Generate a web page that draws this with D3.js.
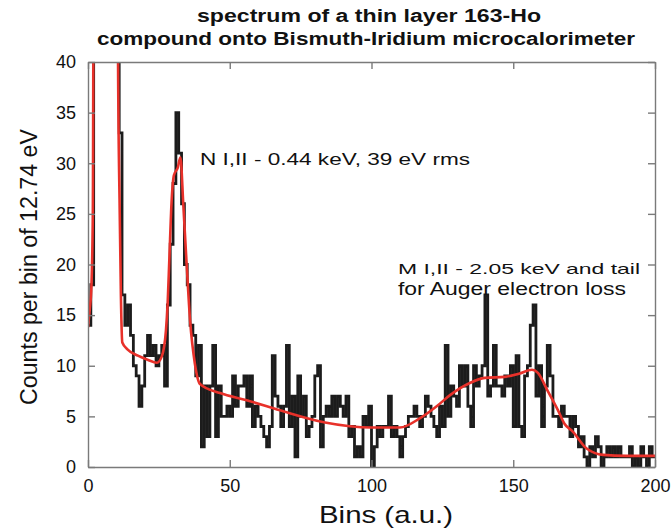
<!DOCTYPE html>
<html>
<head>
<meta charset="utf-8">
<script src="https://cdn.jsdelivr.net/npm/d3@7"></script>
<style>
  body { margin: 0; background: #fff; }
  svg text { font-family: "Liberation Sans", Arial, Helvetica, sans-serif; fill: #111; }
</style>
</head>
<body>
<svg id="chart"></svg>
<script>
// counts per bin (bins 0..199); bins 2-10 run off the top
const counts = [
  14, 18, 60, 110, 150, 160, 140, 110, 85, 62,
  45, 33, 17, 14, 16, 13, 10, 9, 6, 8,
  11, 13, 11, 12, 10, 11, 12, 8, 16, 22,
  28, 35, 31, 26, 20, 18, 14, 13, 9, 12,
  2, 8, 3, 8, 12, 3, 8, 5, 5, 6,
  5, 9, 6, 8, 8, 9, 6, 9, 4, 6,
  5, 4, 3, 2, 4, 11, 7, 6, 4, 6,
  12, 4, 7, 1, 9, 5, 7, 3, 4, 5,
  9, 10, 2, 5, 6, 5, 7, 5, 7, 6,
  5, 7, 3, 4, 1, 2, 1, 5, 4, 6,
  0, 2, 4, 3, 4, 4, 7, 3, 4, 3,
  1, 3, 4, 5, 5, 6, 5, 4, 5, 7,
  6, 5, 4, 3, 6, 4, 12, 5, 8, 7,
  6, 10, 8, 10, 6, 4, 10, 8, 9, 10,
  17, 7, 8, 12, 8, 8, 7, 9, 8, 10,
  4, 11, 4, 3, 9, 10, 14, 16, 7, 10,
  4, 8, 12, 9, 5, 5, 4, 6, 5, 5,
  3, 5, 4, 2, 3, 1, 0, 2, 1, 3,
  2, 0, 1, 2, 1, 2, 1, 2, 1, 1,
  1, 2, 0, 1, 0, 2, 1, 0, 2, 1
];

// fitted line (red), knots
const fitBins = [0, 0.6, 1.2, 1.7, 2.1, 10.3, 10.6, 11.2, 11.6, 12.1, 14, 17.6, 21, 24.3, 26,
  27.5, 28.1, 28.7, 29.5, 30.3, 31.7, 32.6, 33.6, 34.8, 36, 37.7, 39.5, 46.6, 56, 67.7,
  83.6, 100, 110, 117, 123, 127.7, 134.7, 140, 147, 152, 156.6, 158.7, 162, 165.8, 168,
  171, 176, 181.7, 190, 200];
const fitCounts = [13.8, 15.5, 17.8, 25, 60, 60, 40, 25, 17, 12.3, 11.6, 11, 10.6, 10.3, 10.9,
  13.5, 16.2, 20.6, 26.3, 28.8, 29.6, 30.6, 26, 20, 14.5, 10.2, 8.2, 7.3, 6.6, 5.6,
  4.4, 3.9, 3.9, 4.8, 6, 7.1, 8.3, 8.8, 8.9, 9.2, 9.6, 9.3, 7.6, 5.6, 4.3,
  3.5, 1.8, 1.2, 1.1, 1.1];

const xTicks = [0, 50, 100, 150, 200];
const yTicks = [0, 5, 10, 15, 20, 25, 30, 35, 40];
const titleLines = ['spectrum of a thin layer 163-Ho', 'compound onto Bismuth-Iridium microcalorimeter'];
const xLabel = 'Bins (a.u.)';
const yLabel = 'Counts per bin of 12.74 eV';
const noteN = 'N I,II - 0.44 keV, 39 eV rms';
const noteM = ['M I,II - 2.05 keV and tail', 'for Auger electron loss'];

const config = {
  width: 672,
  height: 529,
  margin: { top: 62, right: 17, bottom: 62, left: 88 },
  histColor: '#1c1c1c',
  fitColor: '#e8312a',
  frameColor: '#7a7a7a'
};

const innerW = config.width - config.margin.left - config.margin.right;
const innerH = config.height - config.margin.top - config.margin.bottom;

const svg = d3.select('#chart')
  .attr('width', config.width)
  .attr('height', config.height);

const chart = svg.append('g')
  .attr('transform', `translate(${config.margin.left},${config.margin.top})`);

const xScale = d3.scaleLinear().domain([0, 200]).range([0, innerW]);
const yScale = d3.scaleLinear().domain([0, 40]).range([innerH, 0]);

svg.append('defs').append('clipPath')
  .attr('id', 'plot-clip')
  .append('rect')
  .attr('width', innerW)
  .attr('height', innerH);

// histogram as a stairs line
const histPoints = counts.map((d, i) => [i, d]);
histPoints.push([counts.length, counts[counts.length - 1]]);

const histLine = d3.line()
  .x(d => xScale(d[0]))
  .y(d => yScale(d[1]))
  .curve(d3.curveStepAfter);

const plot = chart.append('g').attr('clip-path', 'url(#plot-clip)');

plot.append('path')
  .datum(histPoints)
  .attr('d', histLine)
  .attr('fill', 'none')
  .attr('stroke', config.histColor)
  .attr('stroke-width', 2.8)
  .attr('stroke-linejoin', 'miter');

const fitLine = d3.line()
  .x((d, i) => xScale(fitBins[i]))
  .y(d => yScale(d))
  .curve(d3.curveMonotoneX);

plot.append('path')
  .datum(fitCounts)
  .attr('d', fitLine)
  .attr('fill', 'none')
  .attr('stroke', config.fitColor)
  .attr('stroke-width', 2.6)
  .attr('stroke-linejoin', 'round');

// frame + inward ticks on all four sides
const tickLen = 7;
const xAxisB = d3.axisBottom(xScale).tickValues(xTicks).tickSize(-tickLen).tickSizeOuter(0).tickPadding(12);
const xAxisT = d3.axisTop(xScale).tickValues(xTicks).tickSize(-tickLen).tickSizeOuter(0).tickFormat('');
const yAxisL = d3.axisLeft(yScale).tickValues(yTicks).tickSize(-tickLen).tickSizeOuter(0).tickPadding(12);
const yAxisR = d3.axisRight(yScale).tickValues(yTicks).tickSize(-tickLen).tickSizeOuter(0).tickFormat('');

chart.append('g').attr('transform', `translate(0,${innerH})`).call(xAxisB);
chart.append('g').call(xAxisT);
chart.append('g').call(yAxisL);
chart.append('g').attr('transform', `translate(${innerW},0)`).call(yAxisR);

chart.selectAll('.domain, .tick line')
  .attr('stroke', config.frameColor)
  .attr('stroke-width', 1.4);

chart.selectAll('.tick text')
  .attr('font-size', 18)
  .attr('fill', '#111')
  .attr('font-family', '"Liberation Sans", Arial, sans-serif');

// title
svg.selectAll('.title')
  .data(titleLines)
  .join('text')
  .attr('class', 'title')
  .attr('x', (d, i) => i === 0 ? 369 : 366)
  .attr('y', (d, i) => 22 + i * 23)
  .attr('text-anchor', 'middle')
  .attr('font-size', 17.5)
  .attr('font-weight', 'bold')
  .attr('textLength', (d, i) => i === 0 ? 344 : 538)
  .attr('lengthAdjust', 'spacingAndGlyphs')
  .text(d => d);

// axis titles
svg.append('text')
  .attr('x', 386)
  .attr('y', 523)
  .attr('text-anchor', 'middle')
  .attr('font-size', 24)
  .attr('textLength', 134)
  .attr('lengthAdjust', 'spacingAndGlyphs')
  .text(xLabel);

svg.append('text')
  .attr('transform', 'translate(37,267) rotate(-90)')
  .attr('text-anchor', 'middle')
  .attr('font-size', 23)
  .attr('textLength', 276)
  .attr('lengthAdjust', 'spacingAndGlyphs')
  .text(yLabel);

// annotations
svg.append('text')
  .attr('x', 200)
  .attr('y', 165)
  .attr('font-size', 17)
  .attr('textLength', 270)
  .attr('lengthAdjust', 'spacingAndGlyphs')
  .text(noteN);

svg.selectAll('.note-m')
  .data(noteM)
  .join('text')
  .attr('class', 'note-m')
  .attr('x', 398)
  .attr('y', (d, i) => 274 + i * 21)
  .attr('font-size', (d, i) => i === 0 ? 15 : 18)
  .attr('textLength', (d, i) => i === 0 ? 242 : 228)
  .attr('lengthAdjust', 'spacingAndGlyphs')
  .text(d => d);
</script>
</body>
</html>
